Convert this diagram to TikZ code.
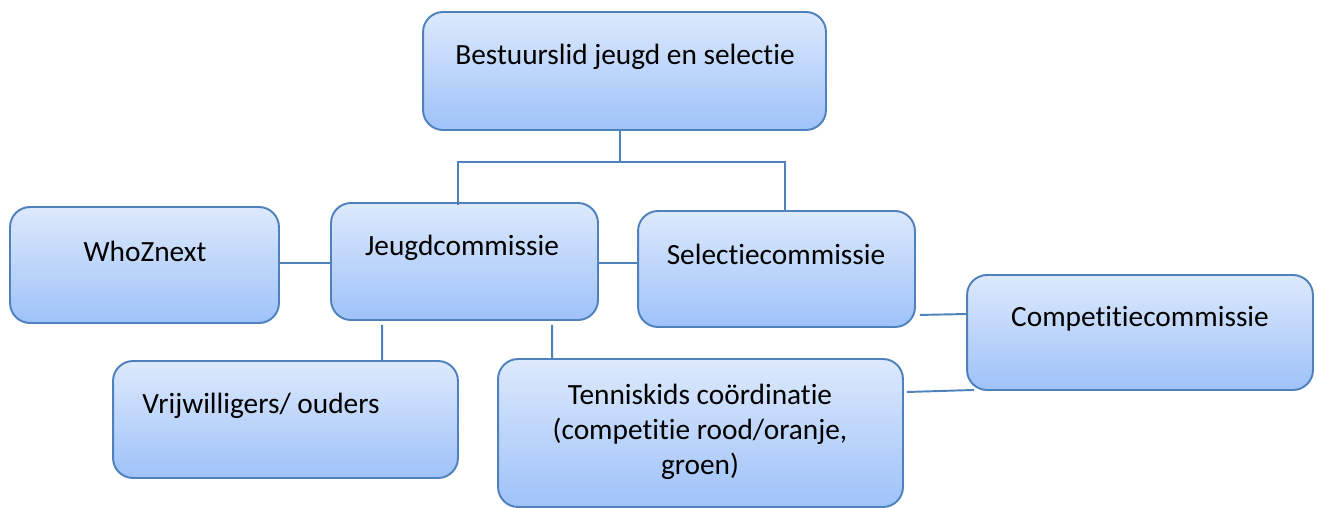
\documentclass[tikz,border=0pt]{standalone}
\usepackage{fontspec}
\setmainfont[Ligatures={NoCommon,NoRequired}]{Carlito}
\usetikzlibrary{calc}

\definecolor{boxline}{RGB}{79,129,189}
\definecolor{boxtop}{RGB}{221,233,252}
\definecolor{boxbot}{RGB}{158,194,249}

\begin{document}
\begin{tikzpicture}[
  x=0.02cm, y=-0.02cm,
  box/.style={draw=boxline, line width=1.1pt, rounded corners=0.4cm,
    top color=boxtop, bottom color=boxbot, inner sep=0pt},
  lbl/.style={font=\fontsize{16.7}{19.8}\selectfont, align=center, inner sep=0pt},
  conn/.style={draw=boxline, line width=1.1pt},
]
\useasboundingbox (0,0) rectangle (1318,507);

%--- boxes --------------------------------------------------------------
\node[box, minimum width=8.06cm, minimum height=2.36cm] (bestuur)    at (624.5,71)    {};
\node[box, minimum width=5.38cm, minimum height=2.32cm] (who)        at (144.5,265)   {};
\node[box, minimum width=5.34cm, minimum height=2.34cm] (jeugd)      at (464.5,261.5) {};
\node[box, minimum width=5.54cm, minimum height=2.32cm] (selectie)   at (776.5,269)   {};
\node[box, minimum width=6.92cm, minimum height=2.30cm] (competitie) at (1140,332.5)  {};
\node[box, minimum width=6.90cm, minimum height=2.34cm] (vrijw)      at (285.5,419.5) {};
\node[box, minimum width=8.10cm, minimum height=2.96cm] (tennis)     at (700.5,433)   {};

%--- texts --------------------------------------------------------------
\node[lbl] (t-bestuur)    at (625,57)   {Bestuurslid jeugd en selectie};
\node[lbl] (t-who)        at (145,251)  {WhoZnext};
\node[lbl] (t-jeugd)      at (462,248)  {Jeugdcommissie};
\node[lbl] (t-selectie)   at (776,254)  {Selectiecommissie};
\node[lbl] (t-competitie) at (1140,319) {Competitiecommissie};
\node[lbl] (t-vrijw)      at (261,406)  {Vrijwilligers/ ouders};
\node[lbl] (t-tennis)     at (700,432)  {Tenniskids coördinatie\\(competitie rood/oranje,\\groen)};

%--- connectors ---------------------------------------------------------
\coordinate (kn) at (620,162);
\draw[conn] (bestuur.south -| kn) -- (kn);
\draw[conn] ($(jeugd.north)+(-6.5,3)$) |- (kn) -| ($(selectie.north)+(8.5,0)$);

\draw[conn] ($(who.east)+(0,-2)$) -- ($(jeugd.west)+(0,1.5)$);
\draw[conn] ($(jeugd.east)+(0,1.5)$) -- ($(selectie.west)+(0,-6)$);

\draw[conn] ($(jeugd.south west)+(52,4)$) -- ($(vrijw.north west)+(270,0)$);
\draw[conn] ($(jeugd.south west)+(222,4)$) -- ($(tennis.north west)+(55,0)$);

\draw[conn] ($(selectie.south east)+(4,-13)$) -- ($(competitie.west)+(0,-18.5)$);
\draw[conn] ($(tennis.east)+(3,-41)$) -- ($(competitie.south west)+(8,-1)$);

\end{tikzpicture}
\end{document}
